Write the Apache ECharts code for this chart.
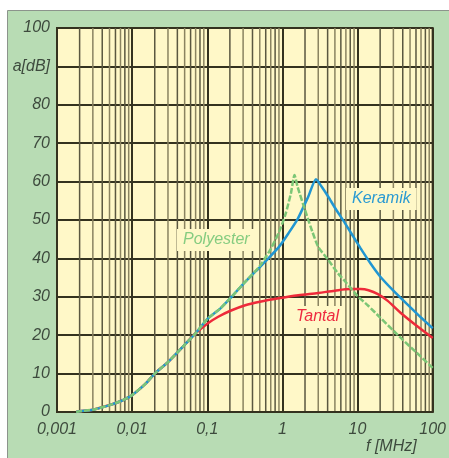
<!DOCTYPE html>
<html>
<head>
<meta charset="utf-8">
<script src="https://cdn.jsdelivr.net/npm/echarts@6/dist/echarts.min.js"></script>
<style>
  html, body { margin: 0; padding: 0; background: #fff; }
  #main { width: 449px; height: 458px; }
</style>
</head>
<body>
<div id="main"></div>
<script>
// low frequency part, shared by all three curves
var lowFreq = [0.0018, 0.002, 0.003, 0.005, 0.007, 0.01, 0.015, 0.02, 0.03, 0.05, 0.07];
var lowDb = [0, 0.2, 0.6, 1.8, 2.8, 4.4, 7.3, 10, 13, 17.5, 20.5];

var polyFreq = [0.1, 0.15, 0.2, 0.3, 0.5, 0.7, 0.9, 1.1, 1.3, 1.45, 1.6, 2, 2.5, 3, 4, 5.5, 7, 10, 14, 20, 30, 40, 60, 100];
var polyDb = [24.2, 27, 29.5, 33.3, 38, 42.5, 46.8, 51.5, 57, 61.7, 58.5, 52.6, 47, 43, 39.8, 36.1, 33.8, 30.2, 27.6, 24.6, 21.2, 18.8, 15.6, 11.5];

var keramikFreq = [0.1, 0.15, 0.2, 0.3, 0.45, 0.6, 0.9, 1.2, 1.6, 2.2, 2.8, 3.3, 4.1, 5, 6.8, 11, 15, 20, 30, 45, 70, 100];
var keramikDb = [24.2, 27, 29.5, 33.3, 36.8, 39.3, 43, 46.5, 50.3, 56, 60.6, 58.8, 56, 53.2, 49.2, 42.6, 38.6, 35.3, 31.6, 28.2, 24.6, 21.8];

var tantalFreq = [0.1, 0.14, 0.2, 0.32, 0.5, 0.89, 1.63, 3, 5, 8, 11, 14, 18.7, 25, 37.7, 60, 100];
var tantalDb = [23, 24.8, 26.3, 27.8, 28.7, 29.6, 30.4, 31, 31.6, 32, 32, 31.7, 30.7, 29, 25.8, 22.6, 19.3];

var xTickLabels = ['0,001', '0,01', '0,1', '1', '10', '100'];
var yTickLabels = ['0', '10', '20', '30', '40', '50', '60', '70', '80', 'a[dB]', '100'];

function pairs(f, d) {
  var out = [];
  for (var i = 0; i < f.length; i++) out.push([f[i], d[i]]);
  return out;
}

// vertical grid lines at 2..9 of every decade
var minorLines = [];
for (var dec = -3; dec < 2; dec++) {
  for (var k = 2; k <= 9; k++) {
    minorLines.push([k * Math.pow(10, dec), k]);
  }
}

var textColor = '#3d4a3d';
var gridDark = '#34321f';
var labelFont = 'Liberation Sans, Arial, sans-serif';
var plotBg = '#fff8c8';

var chart = echarts.init(document.getElementById('main'));

var option = {
  backgroundColor: '#ffffff',
  animation: false,
  graphic: [
    {
      type: 'rect', z: -10,
      shape: { x: 7.5, y: 10.5, width: 445, height: 452 },
      style: { fill: '#b8dcb4', stroke: '#8c948c', lineWidth: 1 }
    },
    {
      type: 'text', z: 100, left: 366, top: 439,
      style: { text: 'f [MHz]', fill: textColor, font: 'italic 16px ' + labelFont }
    },
    {
      type: 'text', z: 100, left: 346, top: 188,
      style: {
        text: 'Keramik', fill: '#2a9ad2', font: 'italic 16px ' + labelFont,
        backgroundColor: plotBg, padding: [3, 6, 3, 6]
      }
    },
    {
      type: 'text', z: 100, left: 177, top: 229,
      style: {
        text: 'Polyester', fill: '#86cc80', font: 'italic 16px ' + labelFont,
        backgroundColor: plotBg, padding: [3, 6, 3, 6]
      }
    },
    {
      type: 'text', z: 100, left: 291, top: 306,
      style: {
        text: 'Tantal', fill: '#ee2a40', font: 'italic 16px ' + labelFont,
        backgroundColor: plotBg, padding: [3, 5, 3, 5]
      }
    }
  ],
  grid: {
    left: 57, top: 28, right: 14, bottom: 46,
    show: true, backgroundColor: plotBg, borderColor: gridDark, borderWidth: 2
  },
  xAxis: {
    type: 'log',
    logBase: 10,
    min: 0.001,
    max: 100,
    axisLine: { show: true, lineStyle: { color: gridDark, width: 2 } },
    axisTick: { show: false },
    splitLine: { show: true, lineStyle: { color: gridDark, width: 2 } },
    axisLabel: {
      color: textColor, fontSize: 16, fontStyle: 'italic', fontFamily: labelFont, margin: 10,
      formatter: function (v) {
        return xTickLabels[Math.round(Math.log10(v)) + 3];
      }
    }
  },
  yAxis: {
    type: 'value',
    min: 0,
    max: 100,
    interval: 10,
    axisLine: { show: true, lineStyle: { color: gridDark, width: 2 } },
    axisTick: { show: false },
    splitLine: { show: true, lineStyle: { color: gridDark, width: 2 } },
    axisLabel: {
      color: textColor, fontSize: 16, fontStyle: 'italic', fontFamily: labelFont, margin: 7,
      formatter: function (v) { return yTickLabels[Math.round(v / 10)]; }
    }
  },
  series: [
    {
      name: 'minorGrid',
      type: 'custom',
      silent: true,
      z: 0,
      data: minorLines,
      renderItem: function (params, api) {
        var v = api.value(0);
        var k = api.value(1);
        var p0 = api.coord([v, 0]);
        var p1 = api.coord([v, 100]);
        return {
          type: 'line',
          shape: { x1: p0[0], y1: p0[1], x2: p1[0], y2: p1[1] },
          style: {
            stroke: k % 2 === 0 ? '#5a5740' : '#8a8360',
            lineWidth: 1.5
          }
        };
      }
    },
    {
      name: 'Tantal',
      type: 'line',
      data: pairs(lowFreq.concat(tantalFreq), lowDb.concat(tantalDb)),
      showSymbol: false,
      smooth: 0.3,
      z: 3,
      lineStyle: { color: '#ee2a3a', width: 2.5 }
    },
    {
      name: 'Keramik',
      type: 'line',
      data: pairs(lowFreq.concat(keramikFreq), lowDb.concat(keramikDb)),
      showSymbol: false,
      smooth: 0.2,
      z: 4,
      lineStyle: { color: '#2196d2', width: 2.5 }
    },
    {
      name: 'Polyester',
      type: 'line',
      data: pairs(lowFreq.concat(polyFreq), lowDb.concat(polyDb)),
      showSymbol: false,
      smooth: 0.2,
      z: 5,
      lineStyle: { color: '#7cc676', width: 2.5, type: [6, 2] }
    }
  ]
};

chart.setOption(option);
</script>
</body>
</html>
